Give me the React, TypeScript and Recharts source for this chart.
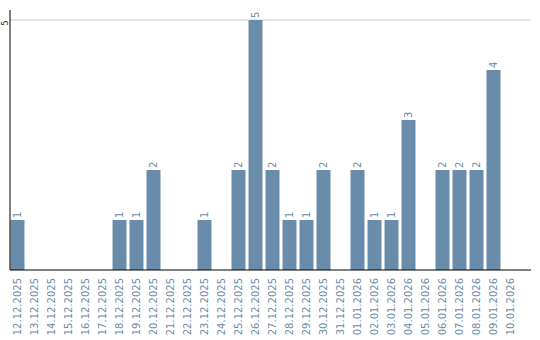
import { BarChart, Bar, XAxis, YAxis, CartesianGrid, LabelList } from "recharts";

// ─── Data ─────────────────────────────────────────────────────────────────────

const days = [
  "12.12.2025", "13.12.2025", "14.12.2025", "15.12.2025", "16.12.2025",
  "17.12.2025", "18.12.2025", "19.12.2025", "20.12.2025", "21.12.2025",
  "22.12.2025", "23.12.2025", "24.12.2025", "25.12.2025", "26.12.2025",
  "27.12.2025", "28.12.2025", "29.12.2025", "30.12.2025", "31.12.2025",
  "01.01.2026", "02.01.2026", "03.01.2026", "04.01.2026", "05.01.2026",
  "06.01.2026", "07.01.2026", "08.01.2026", "09.01.2026", "10.01.2026",
];

const counts = [
  1, 0, 0, 0, 0,
  0, 1, 1, 2, 0,
  0, 1, 0, 2, 5,
  2, 1, 1, 2, 0,
  2, 1, 1, 3, 0,
  2, 2, 2, 4, 0,
];

const yTicks = [5];
const yDomain = [0, 5.2];

const data = days.map((day, i) => ({ day, count: counts[i] }));

// ─── Styles ───────────────────────────────────────────────────────────────────

const BAR = "#6a8cab";
const TEXT = "#6d8daa";
const FONT = "'DejaVu Sans', sans-serif";

function XTick({ x, y, payload }: any) {
  return (
    <text
      x={x}
      y={y}
      dy="0.35em"
      transform={`rotate(-90, ${x}, ${y})`}
      textAnchor="end"
      fill={TEXT}
      fontSize={10}
      fontFamily={FONT}
    >
      {payload.value}
    </text>
  );
}

function YTick({ y, payload }: any) {
  const ty = y + 3;
  return (
    <text
      x={5}
      y={ty}
      dy="0.35em"
      transform={`rotate(-90, 5, ${ty})`}
      textAnchor="middle"
      fill="#222"
      fontSize={8}
      fontFamily={FONT}
    >
      {payload.value}
    </text>
  );
}

function BarLabel({ x, y, width, value }: any) {
  if (!value) return null;
  const cx = x + width / 2;
  const ty = y - 2;
  return (
    <text
      x={cx}
      y={ty}
      dy="0.35em"
      transform={`rotate(-90, ${cx}, ${ty})`}
      textAnchor="start"
      fill={TEXT}
      fontSize={10}
      fontFamily={FONT}
    >
      {value}
    </text>
  );
}

// grid only at the tick values, not at the domain edge
const gridRows = ({ offset }: any) =>
  yTicks.map((t) => offset.top + offset.height * (1 - (t - yDomain[0]) / (yDomain[1] - yDomain[0])));

export default function App() {
  return (
    <div style={{ position: "fixed", left: 0, top: 0, width: 540, height: 340, background: "#fff" }}>
      <BarChart
        width={540}
        height={340}
        data={data}
        margin={{ top: 10, right: 9, bottom: 0, left: 0 }}
      >
        <CartesianGrid vertical={false} stroke="#cccccc" horizontalCoordinatesGenerator={gridRows} />
        <XAxis
          dataKey="day"
          interval={0}
          tick={<XTick />}
          tickLine={false}
          axisLine={{ stroke: "#000" }}
          padding={{ left: -1.5, right: 12.5 }}
          height={70}
        />
        <YAxis
          domain={yDomain}
          ticks={yTicks}
          tick={<YTick />}
          tickLine={false}
          axisLine={{ stroke: "#000" }}
          width={10}
        />
        <Bar dataKey="count" fill={BAR} barSize={14} isAnimationActive={false}>
          <LabelList dataKey="count" content={<BarLabel />} />
        </Bar>
      </BarChart>
    </div>
  );
}
